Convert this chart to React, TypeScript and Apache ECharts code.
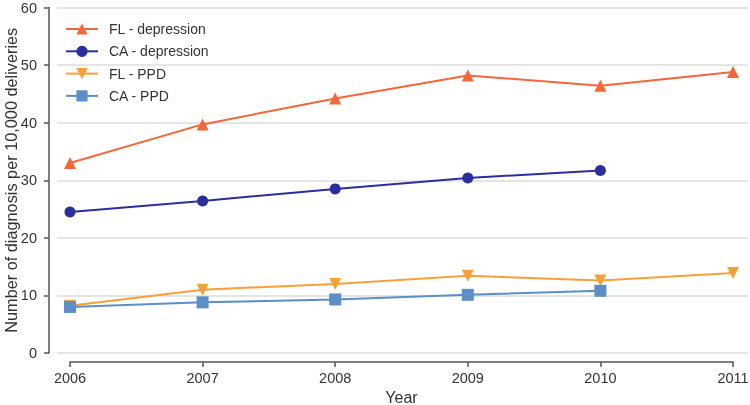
import React, { useEffect, useRef } from "react";
import * as echarts from "echarts";

const years = ["2006", "2007", "2008", "2009", "2010", "2011"];
const flDepression = [33.0, 39.7, 44.2, 48.2, 46.4, 48.8];
const caDepression = [24.5, 26.4, 28.5, 30.4, 31.7, null];
const flPPD = [8.2, 11.0, 12.0, 13.4, 12.6, 13.9];
const caPPD = [8.0, 8.8, 9.3, 10.1, 10.8, null];
const seriesNames = ["FL - depression", "CA - depression", "FL - PPD", "CA - PPD"];

const FONT = "'Liberation Sans', Arial, Helvetica, sans-serif";
const AXIS_COLOR = "#555555";
const TEXT_COLOR = "#333333";

export default function App() {
  const ref = useRef<HTMLDivElement>(null);
  useEffect(() => {
    if (!ref.current) return;
    const chart = echarts.init(ref.current, undefined, { renderer: "svg" });
    const mk = (name: string, data: (number | null)[], color: string, symbol: string, size: number, rotate = 0) => ({
      name,
      type: "line",
      xAxisIndex: 1,
      yAxisIndex: 1,
      data,
      symbol,
      symbolSize: size,
      symbolRotate: rotate,
      showSymbol: true,
      connectNulls: false,
      lineStyle: { color, width: 2 },
      itemStyle: { color, opacity: 1 },
    });
    chart.setOption({
      animation: false,
      textStyle: { fontFamily: FONT },
      grid: [
        { left: 57, right: 2, top: 7.5, bottom: 52, containLabel: false, outerBoundsMode: "none" },
        { left: 70, right: 17, top: 7.5, bottom: 52, containLabel: false, outerBoundsMode: "none" },
      ],
      legend: {
        orient: "vertical",
        left: 60,
        top: 17,
        itemWidth: 32,
        itemHeight: 14,
        itemGap: 8.3,
        data: seriesNames,
        textStyle: { fontSize: 14, color: TEXT_COLOR, fontFamily: FONT, padding: [0, 0, 0, 6] },
      },
      xAxis: [
        { type: "value", gridIndex: 0, min: 0, max: 1, show: false },
        {
          type: "category",
          gridIndex: 1,
          data: years,
          boundaryGap: false,
          offset: 9,
          name: "Year",
          nameLocation: "middle",
          nameGap: 27,
          nameMoveOverlap: false,
          nameTextStyle: { fontSize: 16, color: TEXT_COLOR, fontFamily: FONT },
          axisLine: { show: true, onZero: false, lineStyle: { color: AXIS_COLOR, width: 1.5 } },
          axisTick: { show: true, length: 5, alignWithLabel: true, lineStyle: { color: AXIS_COLOR, width: 1.5 } },
          axisLabel: { fontSize: 14.5, color: TEXT_COLOR, margin: 8, fontFamily: FONT },
          splitLine: { show: false },
        },
      ],
      yAxis: [
        {
          type: "value",
          gridIndex: 0,
          min: 0,
          max: 60,
          interval: 10,
          offset: 8,
          name: "Number of diagnosis per 10,000 deliveries",
          nameLocation: "middle",
          nameGap: 30.5,
          nameMoveOverlap: false,
          nameTextStyle: { fontSize: 16.3, color: TEXT_COLOR, fontFamily: FONT },
          axisLine: { show: true, onZero: false, lineStyle: { color: AXIS_COLOR, width: 1.5 } },
          axisTick: { show: true, length: 5, lineStyle: { color: AXIS_COLOR, width: 1.5 } },
          axisLabel: { fontSize: 14.5, color: TEXT_COLOR, margin: 12, fontFamily: FONT },
          splitLine: { show: true, lineStyle: { color: "#dddddd", width: 1.5 } },
        },
        { type: "value", gridIndex: 1, min: 0, max: 60, show: false, splitLine: { show: false } },
      ],
      series: [
        mk(seriesNames[0], flDepression, "#F5673A", "triangle", 12),
        mk(seriesNames[1], caDepression, "#2B2F9E", "circle", 11),
        mk(seriesNames[2], flPPD, "#F8A037", "triangle", 12, 180),
        mk(seriesNames[3], caPPD, "#5B8FC6", "rect", 12),
      ],
    });
    return () => chart.dispose();
  }, []);
  return <div ref={ref} style={{ position: "fixed", left: 0, top: 0, width: 750, height: 405 }} />;
}
